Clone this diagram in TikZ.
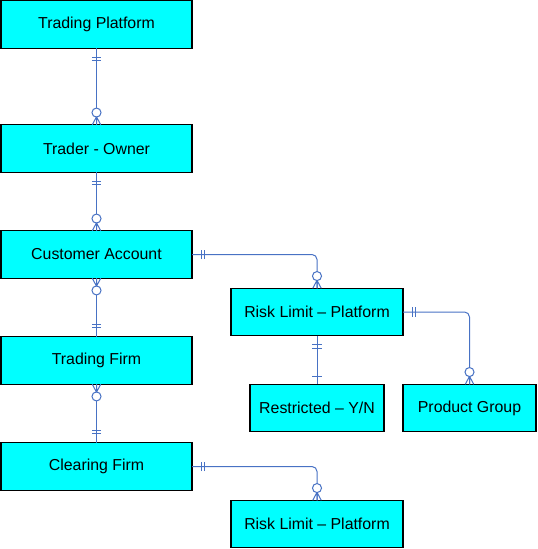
\documentclass[tikz,border=0pt]{standalone}
\usepackage{fontspec}
\setmainfont{Liberation Sans}
\usetikzlibrary{decorations.markings}
\definecolor{boxfill}{RGB}{0,255,255}
\definecolor{linec}{RGB}{72,114,196}
\tikzset{
  ent/.style={draw=black, line width=0.8pt, fill=boxfill, inner sep=0pt, outer sep=0pt,
    minimum height=35.5pt, font=\fontsize{11.9}{14}\selectfont},
  rel/.style={draw=linec, line width=0.75pt, rounded corners=3.75pt},
  barstwo/.style={postaction={decorate, decoration={markings,
    mark=at position 6.75pt with {\draw[linec,line width=0.75pt] (0,-3.4pt)--(0,3.4pt);},
    mark=at position 9.5pt with {\draw[linec,line width=0.75pt] (0,-3.4pt)--(0,3.4pt);}}}},
  zeromany/.style={postaction={decorate, decoration={markings,
    mark=at position -9.2pt with {\draw[linec,line width=0.75pt,fill=white] (0,0) circle (3.4pt);},
    mark=at position -6pt with {\draw[linec,line width=0.75pt] (0,0)--(6pt,3.2pt) (0,0)--(6pt,0) (0,0)--(6pt,-3.2pt);}}}},
  barone/.style={postaction={decorate, decoration={markings,
    mark=at position -6pt with {\draw[linec,line width=0.75pt] (0,-3.4pt)--(0,3.4pt);}}}}
}
\begin{document}
\begin{tikzpicture}[x=0.75pt,y=-0.75pt]
\useasboundingbox (0,0) rectangle (537,549);
\node[ent, minimum width=143.25pt] (TP) at (96.5,24.5) {Trading Platform};
\node[ent, minimum width=143.25pt] (TO) at (96.5,148.5) {Trader - Owner};
\node[ent, minimum width=143.25pt] (CA) at (96.5,254.5) {Customer Account};
\node[ent, minimum width=143.25pt] (TF) at (96.5,360.5) {Trading Firm};
\node[ent, minimum width=143.25pt] (CF) at (96.5,466.5) {Clearing Firm};
\node[ent, minimum width=129pt] (RL1) at (317,312) {Risk Limit – Platform};
\node[ent, minimum width=100.5pt] (RY) at (317,408) {Restricted – Y/N};
\node[ent, minimum width=99.75pt] (PG) at (469.5,408) {Product Group};
\node[ent, minimum width=129pt] (RL2) at (317,524) {Risk Limit – Platform};

\draw[rel, barstwo, zeromany] (TP.south) -- (TO.north);
\draw[rel, barstwo, zeromany] (TO.south) -- (CA.north);
\draw[rel, barstwo, zeromany] (TF.north) -- (CA.south);
\draw[rel, barstwo, zeromany] (CF.north) -- (TF.south);
\draw[rel, barstwo, zeromany] (CA.east) -| (RL1.north);
\draw[rel, barstwo, zeromany] (RL1.east) -| (PG.north);
\draw[rel, barstwo, barone] (RL1.south) -- (RY.north);
\draw[rel, barstwo, zeromany] (CF.east) -| (RL2.north);
\end{tikzpicture}
\end{document}
